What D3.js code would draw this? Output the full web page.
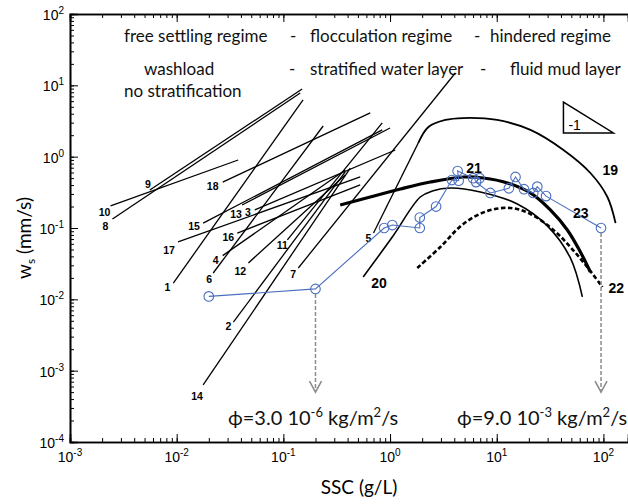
<!DOCTYPE html>
<html>
<head>
<meta charset="utf-8">
<script src="https://cdn.jsdelivr.net/npm/d3@7"></script>
<style>
  body { margin: 0; background: #fff; }
</style>
</head>
<body>
<div class="main"></div>
<script>
const w = 628;
const h = 504;

// power-law lines 1-18 (start = labelled end)
const lineIds = [1, 2, 3, 4, 5, 6, 7, 8, 9, 10, 11, 12, 13, 14, 15, 16, 17, 18];
const lineStartSSC = [0.0093, 0.034, 0.054, 0.027, 0.70, 0.022, 0.138, 0.0025, 0.0056, 0.0024, 0.109, 0.047, 0.041, 0.0177, 0.0177, 0.037, 0.0103, 0.027];
const lineStartWs = [0.0169, 0.0048, 0.179, 0.041, 0.085, 0.0234, 0.0275, 0.134, 0.341, 0.204, 0.068, 0.0324, 0.21, 0.00063, 0.117, 0.085, 0.064, 0.44];
const lineEndSSC = [0.153, 0.38, 1.12, 0.38, 1.84, 0.236, 4.09, 0.144, 0.15, 0.0377, 0.845, 0.38, 1.0, 0.424, 0.845, 0.525, 0.525, 0.652];
const lineEndWs = [6.23, 0.61, 1.24, 0.65, 1.56, 2.69, 14.9, 7.81, 8.89, 0.898, 2.97, 0.553, 2.52, 0.693, 2.37, 0.401, 0.519, 4.1];
const labelDx = [-6, -5, -7, -7, -5, -4, -5, -7, -2, -6, -5, -8, -6, -6, -9, -9, -9, -10];
const labelDy = [4, 4, 2, 4, 5, 6, 6, 7, -6, 6, 5, 8, 9, 11, 3, 4, 8, 4];

// curve 19
const c19SSC = [1.84, 2.29, 3.3, 4.86, 10.1, 20.7, 42.2, 75.5, 109, 130];
const c19Ws = [1.56, 2.61, 3.27, 3.48, 3.27, 2.37, 1.24, 0.59, 0.272, 0.117];
// curve 20
const c20SSC = [0.56, 1.05, 1.92, 2.49, 3.67, 7.02, 15.6, 29.8, 49.0, 63.5];
const c20Ws = [0.0206, 0.0748, 0.272, 0.33, 0.364, 0.32, 0.217, 0.107, 0.038, 0.0108];
// curve 21 (thick)
const c21SSC = [0.341, 0.652, 1.25, 2.38, 4.86, 7.48, 12.6, 20.7, 31.8, 45.9, 60.8, 75.5];
const c21Ws = [0.21, 0.272, 0.352, 0.441, 0.519, 0.502, 0.428, 0.31, 0.179, 0.0938, 0.0462, 0.0241];
// curve 22 (dashed)
const c22SSC = [1.8, 2.96, 4.86, 8.16, 13.4, 20.7, 34.0, 49.0, 69.3, 97.9];
const c22Ws = [0.0275, 0.0542, 0.114, 0.173, 0.191, 0.157, 0.0938, 0.0542, 0.0293, 0.0149];
// series 23 (circles)
const s23SSC = [0.02, 0.2, 0.88, 1.05, 1.9, 1.9, 2.7, 3.8, 4.4, 4.3, 6.0, 6.9, 6.4, 8.7, 13, 15, 18, 22, 24, 29, 95];
const s23Ws = [0.011, 0.014, 0.10, 0.11, 0.10, 0.14, 0.20, 0.47, 0.46, 0.63, 0.50, 0.50, 0.44, 0.31, 0.36, 0.52, 0.35, 0.31, 0.38, 0.28, 0.10];

// flux arrows
const arrowSSC = [0.2, 95];
const arrowTopWs = [0.014, 0.1];
const arrowBottomWs = [0.0005, 0.0005];

// slope triangle
const triSSC = [42.2, 42.2, 124];
const triWs = [5.84, 2.15, 2.15];

const xDecades = [-3, -2, -1, 0, 1, 2];
const yDecades = [-4, -3, -2, -1, 0, 1, 2];

const svg = d3.select('.main').append('svg').attr('width', w).attr('height', h);
svg.append('rect').attr('width', w).attr('height', h).attr('fill', '#fff');

const x = d3.scaleLog().domain([1e-3, 170]).range([70, 628]);
const y = d3.scaleLog().domain([1e-4, 1e2]).range([442, 14]);

function minorTicks(decades, max) {
  const out = [];
  decades.forEach(function (d) {
    for (let m = 1; m <= 9; m++) {
      const v = m * Math.pow(10, d);
      if (v <= max * 1.0001) out.push(v);
    }
  });
  return out;
}
const xMinor = minorTicks(xDecades, 170);
const yMinor = minorTicks(yDecades, 100);
const xMajor = xDecades.map(function (d) { return Math.pow(10, d); });
const yMajor = yDecades.map(function (d) { return Math.pow(10, d); });

function drawAxis(axisFn, scale, minor, major, transform) {
  const g1 = svg.append('g').attr('transform', transform)
    .call(axisFn(scale).tickValues(minor).tickSize(-4).tickFormat(''));
  const g2 = svg.append('g').attr('transform', transform)
    .call(axisFn(scale).tickValues(major).tickSize(-8).tickFormat(''));
  [g1, g2].forEach(function (g) {
    g.selectAll('path').attr('stroke', '#000').attr('stroke-width', 1.6);
    g.selectAll('line').attr('stroke', '#000').attr('stroke-width', 1);
  });
}
drawAxis(d3.axisBottom, x, xMinor, xMajor, 'translate(0,442)');
drawAxis(d3.axisTop, x, xMinor, xMajor, 'translate(0,14)');
drawAxis(d3.axisLeft, y, yMinor, yMajor, 'translate(70,0)');

// tick labels
const tickFont = '"Liberation Sans", Arial, sans-serif';
xDecades.forEach(function (d) {
  const t = svg.append('text').attr('x', x(Math.pow(10, d))).attr('y', 462)
    .attr('text-anchor', 'middle').attr('font-family', tickFont).attr('font-size', 14);
  t.append('tspan').text('10');
  t.append('tspan').attr('dy', -6).attr('font-size', 10).text(d);
});
yDecades.forEach(function (d) {
  const t = svg.append('text').attr('x', 64).attr('y', y(Math.pow(10, d)) + 6)
    .attr('text-anchor', 'end').attr('font-family', tickFont).attr('font-size', 14);
  t.append('tspan').text('10');
  t.append('tspan').attr('dy', -6).attr('font-size', 10).text(d);
});

// axis titles
const labelFont = 'Lato, "Open Sans", sans-serif';
const yl = svg.append('text').attr('transform', 'translate(31,238) rotate(-90)')
  .attr('text-anchor', 'middle').attr('font-family', labelFont).attr('font-size', 19);
yl.append('tspan').text('w');
yl.append('tspan').attr('dy', 4).attr('font-size', 12).text('s');
yl.append('tspan').attr('dy', -4).text(' (mm/s)');
svg.append('text').attr('x', 359).attr('y', 494).attr('text-anchor', 'middle')
  .attr('font-family', labelFont).attr('font-size', 19).text('SSC (g/L)');

// regime text
const regime = svg.append('g').attr('font-family', labelFont).attr('font-size', 17).attr('fill', '#111');
[['free settling regime', 124], ['-', 290], ['flocculation regime', 310], ['-', 474], ['hindered regime', 490]]
  .forEach(function (d) { regime.append('text').attr('x', d[1]).attr('y', 42).text(d[0]); });
[['washload', 144], ['-', 289], ['stratified water layer', 310], ['-', 480], ['fluid mud layer', 510]]
  .forEach(function (d) { regime.append('text').attr('x', d[1]).attr('y', 75).text(d[0]); });
regime.append('text').attr('x', 124).attr('y', 97).text('no stratification');

const plot = svg.append('g');

// straight lines 1-18
lineIds.forEach(function (id, i) {
  plot.append('line')
    .attr('x1', x(lineStartSSC[i])).attr('y1', y(lineStartWs[i]))
    .attr('x2', x(lineEndSSC[i])).attr('y2', y(lineEndWs[i]))
    .attr('stroke', '#000').attr('stroke-width', 1.3);
  plot.append('text')
    .attr('x', x(lineStartSSC[i]) + labelDx[i]).attr('y', y(lineStartWs[i]) + labelDy[i] + 4)
    .attr('text-anchor', 'middle').attr('font-family', tickFont).attr('font-weight', 'bold')
    .attr('font-size', 10.5).text(id);
});

const line = d3.line().x(function (d) { return x(d[0]); }).y(function (d) { return y(d[1]); })
  .curve(d3.curveCatmullRom.alpha(0.5));
function zip(a, b) { return a.map(function (v, i) { return [v, b[i]]; }); }

plot.append('path').attr('d', line(zip(c19SSC, c19Ws))).attr('fill', 'none')
  .attr('stroke', '#000').attr('stroke-width', 1.8);
plot.append('path').attr('d', line(zip(c20SSC, c20Ws))).attr('fill', 'none')
  .attr('stroke', '#000').attr('stroke-width', 1.6);
plot.append('path').attr('d', line(zip(c21SSC, c21Ws))).attr('fill', 'none')
  .attr('stroke', '#000').attr('stroke-width', 3.2);
plot.append('path').attr('d', line(zip(c22SSC, c22Ws))).attr('fill', 'none')
  .attr('stroke', '#000').attr('stroke-width', 2.6).attr('stroke-dasharray', '4.5,2.5');

// flux arrows
arrowSSC.forEach(function (s, i) {
  const ax = x(s);
  const y1 = y(arrowTopWs[i]) + 5;
  const y2 = y(arrowBottomWs[i]);
  plot.append('line').attr('x1', ax).attr('x2', ax).attr('y1', y1).attr('y2', y2)
    .attr('stroke', '#8c8c8c').attr('stroke-width', 1.5).attr('stroke-dasharray', '4,2');
  plot.append('path').attr('d', 'M' + (ax - 6) + ',' + (y2 - 11) + 'L' + ax + ',' + y2 + 'L' + (ax + 6) + ',' + (y2 - 11))
    .attr('fill', 'none').attr('stroke', '#8c8c8c').attr('stroke-width', 1.6);
});

// series 23
const s23 = zip(s23SSC, s23Ws);
plot.append('path').attr('d', d3.line().x(function (d) { return x(d[0]); }).y(function (d) { return y(d[1]); })(s23))
  .attr('fill', 'none').attr('stroke', '#4a6fbf').attr('stroke-width', 1.1);
plot.selectAll('circle.s23').data(s23).enter().append('circle')
  .attr('cx', function (d) { return x(d[0]); }).attr('cy', function (d) { return y(d[1]); })
  .attr('r', 4.8).attr('fill', 'none').attr('stroke', '#4a6fbf').attr('stroke-width', 1.1);

// big labels
const big = plot.append('g').attr('font-family', tickFont).attr('font-weight', 'bold').attr('font-size', 14);
big.append('text').attr('x', x(c19SSC[7]) + 12).attr('y', y(c19Ws[7]) + 2).text('19');
big.append('text').attr('x', x(c20SSC[0]) + 8).attr('y', y(c20Ws[0]) + 11).text('20');
big.append('text').attr('x', x(c21SSC[4]) + 3).attr('y', y(c21Ws[4]) - 4).text('21');
big.append('text').attr('x', x(c22SSC[9]) + 6).attr('y', y(c22Ws[9]) + 6).text('22');
big.append('text').attr('x', x(s23SSC[20]) - 28).attr('y', y(s23Ws[20]) - 10).text('23');

// slope triangle
plot.append('path').attr('d', 'M' + triSSC.map(function (s, i) { return x(s) + ',' + y(triWs[i]); }).join('L') + 'Z')
  .attr('fill', 'none').attr('stroke', '#000').attr('stroke-width', 1.5);
plot.append('text').attr('x', x(triSSC[1]) + 5).attr('y', y(triWs[1]) - 3)
  .attr('font-family', tickFont).attr('font-size', 14).text('-1');

// flux texts
function fluxText(xp, mant, exp) {
  const t = svg.append('text').attr('x', xp).attr('y', 425)
    .attr('font-family', labelFont).attr('font-size', 20).attr('fill', '#111');
  t.append('tspan').text('\u03d5=' + mant + ' 10');
  t.append('tspan').attr('dy', -8).attr('font-size', 13).text(exp);
  t.append('tspan').attr('dy', 8).text(' kg/m');
  t.append('tspan').attr('dy', -8).attr('font-size', 13).text('2');
  t.append('tspan').attr('dy', 8).text('/s');
}
fluxText(228, '3.0', '-6');
fluxText(457, '9.0', '-3');
</script>
</body>
</html>
